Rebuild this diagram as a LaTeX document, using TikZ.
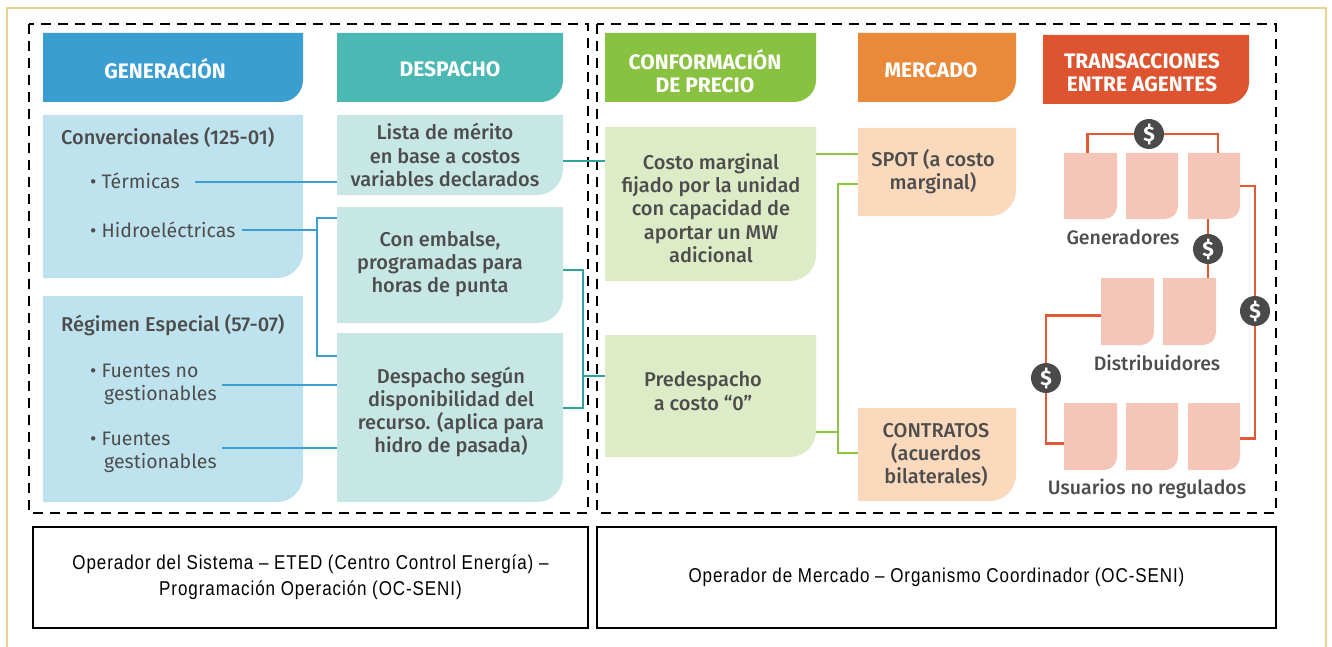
\documentclass[tikz,border=0pt]{standalone}
\usepackage{fontspec}
\setmainfont{Fira Sans}
\newfontfamily\fmed{Fira Sans Medium}
\newfontfamily\fcond{Liberation Sans}[FakeStretch=0.85,LetterSpace=4.6]
\usetikzlibrary{fit}
\definecolor{hblue}{HTML}{3A9ED1}
\definecolor{lblue}{HTML}{BEE3EE}
\definecolor{cblue}{HTML}{3AA0D2}
\definecolor{hteal}{HTML}{4CB8B3}
\definecolor{lteal}{HTML}{C7E7E4}
\definecolor{cteal}{HTML}{2FA39E}
\definecolor{hgreen}{HTML}{89C140}
\definecolor{lgreen}{HTML}{DDEBC7}
\definecolor{cgreen}{HTML}{8CC63F}
\definecolor{horange}{HTML}{E98A3B}
\definecolor{lpeach}{HTML}{FAD9BC}
\definecolor{hred}{HTML}{DF5430}
\definecolor{agc}{HTML}{F5C6B8}
\definecolor{cred}{HTML}{E05A35}
\definecolor{dgray}{HTML}{4A4A4A}
\definecolor{tgray}{HTML}{4D4D4D}
\definecolor{ycol}{HTML}{EAD38E}
\newcommand\bx[7]{%
  \fill[#2] (#3,#4) -- (#5,#4) -- (#5,#6-#7) arc[start angle=0,end angle=90,radius=#7] -- (#3,#6) -- cycle;
  \node[fit={(#3,#4) (#5,#6)}, inner sep=0pt] (#1) {};}
\begin{document}
\begin{tikzpicture}[x=1pt,y=-1pt,
  hdr/.style={text=white, font=\bfseries\fontsize{21}{23}\selectfont, align=center, inner sep=0pt},
  btxt/.style={text=tgray, font=\fmed\fontsize{20}{23.2}\selectfont, align=center, inner sep=0pt},
  ttl/.style={text=tgray, font=\fmed\fontsize{20}{23.2}\selectfont, anchor=base west, inner sep=0pt},
  item/.style={text=tgray, font=\fontsize{19.5}{23.2}\selectfont, anchor=base west, inner sep=0pt},
  agl/.style={text=tgray, font=\fmed\fontsize{19.5}{23}\selectfont, inner sep=0pt},
  dol/.style={circle, fill=dgray, minimum size=30pt, inner sep=0pt, text=white, font=\bfseries\fontsize{21}{21}\selectfont},
  cb/.style={draw=cblue, line width=2pt},
  ct/.style={draw=cteal, line width=2pt},
  cg/.style={draw=cgreen, line width=2pt},
  cr/.style={draw=cred, line width=2.2pt},
  dashframe/.style={draw=black, line width=2.4pt, dash pattern=on 10pt off 7pt},
  opbox/.style={draw=black, line width=1.2pt, inner sep=0pt, align=center, text=black, font=\fcond\fontsize{20}{26}\selectfont}
]
\useasboundingbox (0,0) rectangle (1332,647);
% outer frame
\draw[ycol, line width=2pt] (7,652) -- (7,8) -- (1326,8) -- (1326,652);
% dashed frames
\draw[dashframe] (29,24) rectangle (588,513);
\draw[dashframe] (597,24) rectangle (1276,513);
% bottom boxes
\node[opbox, minimum width=555pt, minimum height=101pt] (opsis) at (310.5,577.5)
  {Operador del Sistema – ETED (Centro Control Energía) –\\Programación Operación (OC-SENI)};
\node[opbox, minimum width=679pt, minimum height=101pt] (opmer) at (936.5,577.5)
  {Operador de Mercado – Organismo Coordinador (OC-SENI)};

% headers
\bx{hgen}{hblue}{43}{33}{303}{102}{22}
\bx{hdes}{hteal}{337}{33}{563}{102}{22}
\bx{hcon}{hgreen}{605}{33}{816}{102}{22}
\bx{hmer}{horange}{858}{33}{1016}{102}{22}
\bx{htra}{hred}{1043}{35}{1249}{104}{22}
\node[hdr] (thgen) at (165,69) {GENERACIÓN};
\node[hdr] (thdes) at (450,69) {DESPACHO};
\node[hdr] (thcon) at (705,71) {CONFORMACIÓN\\DE PRECIO};
\node[hdr] (thmer) at (931,70) {MERCADO};
\node[hdr] (thtra) at (1142,73) {TRANSACCIONES\\ENTRE AGENTES};

% body boxes
\bx{conv}{lblue}{43}{115}{303}{278}{26}
\bx{regim}{lblue}{43}{296}{303}{502}{26}
\bx{lista}{lteal}{337}{115}{563}{195}{26}
\bx{embalse}{lteal}{337}{207}{563}{323}{26}
\bx{dsegun}{lteal}{337}{333}{563}{502}{26}
\bx{costo}{lgreen}{605}{127}{816}{281}{26}
\bx{pre}{lgreen}{605}{335}{816}{457}{26}
\bx{spot}{lpeach}{858}{128}{1016}{216}{26}
\bx{contr}{lpeach}{858}{408}{1016}{501}{26}

% left texts
\node[ttl] (tconv) at (61,145) {Convercionales (125-01)};
\node[item] (tterm) at (90,189) {• Térmicas};
\node[item] (thid) at (90,237) {• Hidroeléctricas};
\node[ttl] (tregim) at (61,331) {Régimen Especial (57-07)};
\node[item] (tfno1) at (90,377) {• Fuentes no};
\node[item] (tfno2) at (104,400) {gestionables};
\node[item] (tfg1) at (90,445) {• Fuentes};
\node[item] (tfg2) at (104,468) {gestionables};

% box texts
\node[btxt] (tlista) at (445,155) {Lista de mérito\\en base a costos\\variables declarados};
\node[btxt] (tembalse) at (440,264) {Con embalse,\\programadas para\\horas de punta};
\node[btxt] (tdsegun) at (451,412) {Despacho según\\disponibilidad del\\recurso. (aplica para\\hidro de pasada)};
\node[btxt] (tcosto) at (711,208) {Costo marginal\\fijado por la unidad\\con capacidad de\\aportar un MW\\adicional};
\node[btxt] (tpre) at (703,391) {Predespacho\\a costo “0”};
\node[btxt] (tspot) at (933,172) {SPOT (a costo\\marginal)};
\node[btxt] (tcontr) at (936,455) {CONTRATOS\\(acuerdos\\bilaterales)};

% left connectors
\coordinate (cterm) at (195,182);
\draw[cb] (cterm) -- (cterm -| lista.west);
\coordinate (chid) at (242,230);
\coordinate (hb1) at (317,218);
\coordinate (hb2) at (317,356);
\draw[cb] (chid) -- (chid -| hb1);
\draw[cb] (hb1 -| embalse.west) -- (hb1) -- (hb2) -- (hb2 -| dsegun.west);
\coordinate (cfno) at (222,385);
\draw[cb] (cfno) -- (cfno -| dsegun.west);
\coordinate (cfg) at (222,448);
\draw[cb] (cfg) -- (cfg -| dsegun.west);

% teal connectors
\coordinate (lc) at (563,161);
\draw[ct] (lc -| lista.east) -- (lc -| costo.west);
\coordinate (tb1) at (583,270);
\coordinate (tb2) at (583,408);
\coordinate (tb3) at (583,376);
\draw[ct] (tb1 -| embalse.east) -- (tb1) -- (tb2) -- (tb2 -| dsegun.east);
\draw[ct] (tb3) -- (tb3 -| pre.west);

% green connectors
\coordinate (gc) at (838,154);
\draw[cg] (gc -| costo.east) -- (gc -| spot.west);
\coordinate (gb1) at (838,184);
\coordinate (gb2) at (838,453);
\coordinate (gb3) at (838,432);
\draw[cg] (gb1 -| spot.west) -- (gb1) -- (gb2) -- (gb2 -| contr.west);
\draw[cg] (gb3 -| pre.east) -- (gb3);

% agents
\bx{g1}{agc}{1064}{153}{1117}{219}{13}
\bx{g2}{agc}{1126}{153}{1178}{219}{13}
\bx{g3}{agc}{1188}{153}{1240}{219}{13}
\bx{d1}{agc}{1101}{278}{1154}{345}{13}
\bx{d2}{agc}{1163}{278}{1216}{345}{13}
\bx{u1}{agc}{1064}{403}{1117}{470}{13}
\bx{u2}{agc}{1126}{403}{1178}{470}{13}
\bx{u3}{agc}{1188}{403}{1240}{470}{13}
\node[agl] (lgen) at (1123,237) {Generadores};
\node[agl] (ldis) at (1157,363) {Distribuidores};
\node[agl] (lusu) at (1147,489) {Usuarios no regulados};

% money nodes
\node[dol] (m1) at (1149,134) {\$};
\node[dol] (m2) at (1208,249) {\$};
\node[dol] (m3) at (1255,311) {\$};
\node[dol] (m4) at (1046,378) {\$};

% agent connectors
\draw[cr] ([xshift=-3pt]g1.north) |- (m1.west);
\draw[cr] (m1.east) -| ([xshift=4pt]g3.north);
\draw[cr] (m2.north) -- (m2.north |- g3.south);
\draw[cr] (m2.south) -- (m2.south |- d2.north);
\draw[cr] (g3.east) -| (m3.north);
\draw[cr] (m3.south) |- ([yshift=-2pt]u3.east);
\draw[cr] ([yshift=-4pt]d1.west) -| (m4.north);
\draw[cr] (m4.south) |- ([yshift=-7pt]u1.west);
\end{tikzpicture}
\end{document}
